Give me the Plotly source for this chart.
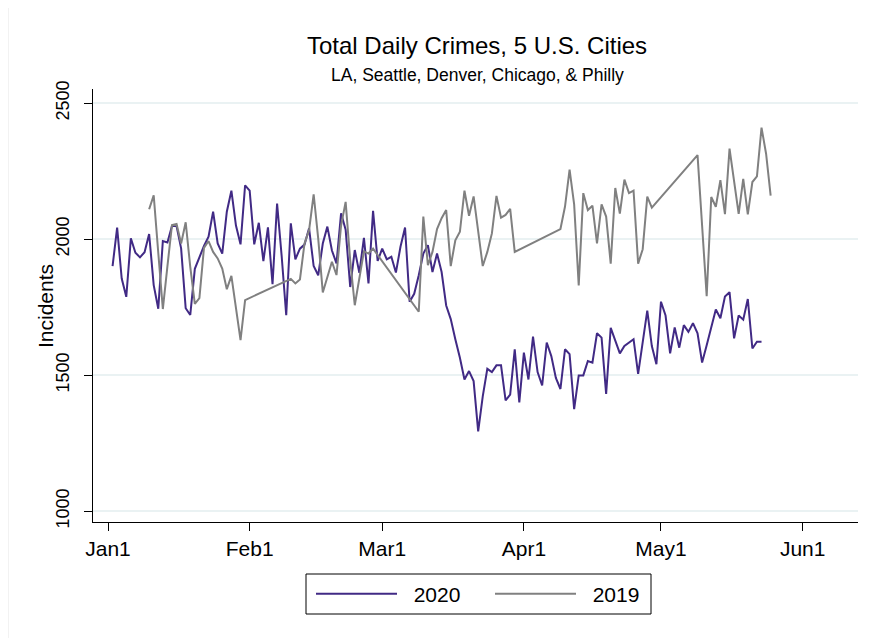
import pandas as pd
import plotly.graph_objects as go

# ---------------- data ----------------
# 2020 daily totals, Jan 2 .. May 23 (one value per day)
start_2020 = "2020-01-02"
jan_2020 = [1901, 2042, 1855, 1788, 2003, 1950, 1933, 1952, 2019, 1831,
            1744, 1993, 1988, 2048, 2048, 1966, 1746, 1721, 1891, 1935,
            1975, 2009, 2101, 1984, 1947, 2101, 2178, 2050, 1981, 2198]
feb_2020 = [2178, 1981, 2060, 1919, 2043, 1834, 2131, 1938, 1720, 2058,
            1926, 1965, 1980, 2040, 1901, 1867, 1984, 2046, 1958, 1911,
            2095, 2035, 1824, 1960, 1876, 2005, 1837, 2104, 1920]
mar_2020 = [1965, 1926, 1935, 1877, 1972, 2043, 1770, 1799, 1867, 1947,
            1978, 1879, 1947, 1879, 1756, 1706, 1632, 1564, 1484, 1515,
            1478, 1293, 1422, 1523, 1511, 1536, 1536, 1407, 1428, 1595,
            1400]
apr_2020 = [1583, 1484, 1642, 1511, 1462, 1620, 1570, 1490, 1449, 1595,
            1577, 1375, 1499, 1499, 1552, 1546, 1654, 1638, 1431, 1674,
            1630, 1580, 1607, 1620, 1632, 1505, 1620, 1737, 1607, 1540]
may_2020 = [1770, 1719, 1580, 1675, 1601, 1684, 1659, 1691, 1654, 1546,
            1610, 1674, 1741, 1709, 1789, 1805, 1635, 1719, 1704, 1780,
            1598, 1623, 1623]

# 2019 daily totals, plotted on the same day-of-year axis; gaps are missing days
seg_starts_2019 = ["2020-01-10", "2020-02-10", "2020-03-09", "2020-04-09",
                   "2020-05-09", "2020-05-11"]
seg_values_2019 = [
    [2110, 2161, 1950, 1743, 1900, 2052, 2056, 1984, 2062, 1898,
     1762, 1783, 1968, 1993, 1953, 1929, 1892, 1816, 1865, 1743,
     1629, 1776],
    [1854, 1837, 1852, 1984, 2033, 2165, 2002, 1804, 1858, 1917,
     1868, 2050, 2137, 1922, 1757, 1860, 1955, 1947, 1965],
    [1733, 2083, 1904, 1953, 2037, 2077, 2107, 1901, 1996, 2027,
     2178, 2086, 2157, 2030, 1901, 1953, 2021, 2159, 2079, 2089,
     2111, 1953],
    [2037, 2120, 2256, 2128, 1830, 2169, 2107, 2123, 1984, 2128,
     2083, 1910, 2188, 2094, 2219, 2169, 2178, 1910, 1963, 2156,
     2116],
    [2309],
    [1790, 2155, 2119, 2217, 2092, 2333, 2212, 2093, 2222, 2091,
     2210, 2231, 2410, 2314, 2160],
]

tick_dates = ["2020-01-01", "2020-02-01", "2020-03-01", "2020-04-01",
              "2020-05-01", "2020-06-01"]
tick_labels = ["Jan1", "Feb1", "Mar1", "Apr1", "May1", "Jun1"]
y_ticks = [1000, 1500, 2000, 2500]

title_text = "Total Daily Crimes, 5 U.S. Cities"
subtitle_text = "LA, Seattle, Denver, Chicago, &amp; Philly"
y_title = "Incidents"

# ---------------- build ----------------
vals_2020 = jan_2020 + feb_2020 + mar_2020 + apr_2020 + may_2020
dates_2020 = pd.date_range(start_2020, periods=len(vals_2020), freq="D")

dates_2019, vals_2019 = [], []
for s, v in zip(seg_starts_2019, seg_values_2019):
    dates_2019 += list(pd.date_range(s, periods=len(v), freq="D"))
    vals_2019 += v

FONT = "Liberation Sans, Arial, Helvetica, sans-serif"
PURPLE = "#412a85"
GRAY = "#808080"

W, H = 871, 638
OFF = 8  # page body margin offset
L, R, T, B = 93 - OFF, W - (858 - OFF), 89 - OFF, H - (522 - OFF)
PW, PH = W - L - R, H - T - B


def px(xs):  # screen x -> paper x
    return (xs - OFF - L) / PW


def py(ys):  # screen y -> paper y
    return (H - B - (ys - OFF)) / PH


fig = go.Figure()
fig.add_trace(go.Scatter(x=dates_2020, y=vals_2020, mode="lines",
                         name="&nbsp;&nbsp;2020",
                         line=dict(color=PURPLE, width=2)))
fig.add_trace(go.Scatter(x=dates_2019, y=vals_2019, mode="lines",
                         name="&nbsp;&nbsp;2019",
                         line=dict(color=GRAY, width=2)))

fig.update_layout(
    width=W, height=H,
    margin=dict(l=L, r=R, t=T, b=B, autoexpand=False),
    paper_bgcolor="white", plot_bgcolor="white",
    font=dict(family=FONT, color="black", size=20),
    showlegend=True,
    legend=dict(orientation="h", x=px(311), xanchor="left",
                y=py(594), yanchor="middle",
                borderwidth=0, bgcolor="rgba(0,0,0,0)",
                font=dict(size=21), itemwidth=81, entrywidth=83,
                tracegroupgap=0),
    xaxis=dict(
        type="date", automargin=False,
        range=["2019-12-28 17:14", "2020-06-13 02:40"],
        tickmode="array", tickvals=tick_dates, ticktext=tick_labels,
        showgrid=False, zeroline=False,
        showline=True, linecolor="black", linewidth=1,
        ticks="outside", ticklen=8, tickwidth=1, tickcolor="black",
        tickfont=dict(size=21),
    ),
    yaxis=dict(
        automargin=False,
        range=[960, 2552],
        tickmode="array", tickvals=y_ticks, ticktext=[str(v) for v in y_ticks],
        tickangle=-90, ticklabelstandoff=8,
        showgrid=True, gridcolor="#eaf2f3", gridwidth=1.5,
        zeroline=False,
        showline=True, linecolor="black", linewidth=1,
        ticks="outside", ticklen=8, tickwidth=1, tickcolor="black",
        tickfont=dict(size=18),
    ),
    annotations=[
        dict(text=title_text, xref="paper", yref="paper", x=px(477), y=py(45),
             xanchor="center", yanchor="middle", showarrow=False,
             font=dict(size=24, family=FONT)),
        dict(text=subtitle_text, xref="paper", yref="paper", x=px(477), y=py(75),
             xanchor="center", yanchor="middle", showarrow=False,
             font=dict(size=17.5, family=FONT)),
        dict(text=y_title, xref="paper", yref="paper", x=px(45), y=py(306),
             xanchor="center", yanchor="middle", showarrow=False, textangle=-90,
             font=dict(size=21, family=FONT)),
    ],
    shapes=[
        dict(type="rect", xref="paper", yref="paper",
             x0=px(306), x1=px(651), y0=py(614), y1=py(574),
             line=dict(color="black", width=1), fillcolor="rgba(0,0,0,0)"),
        dict(type="line", xref="paper", yref="paper", x0=px(8), x1=px(8),
             y0=py(H + OFF), y1=py(OFF), line=dict(color="#e6e6e6", width=1)),
    ],
)

fig.write_html("out.html")
